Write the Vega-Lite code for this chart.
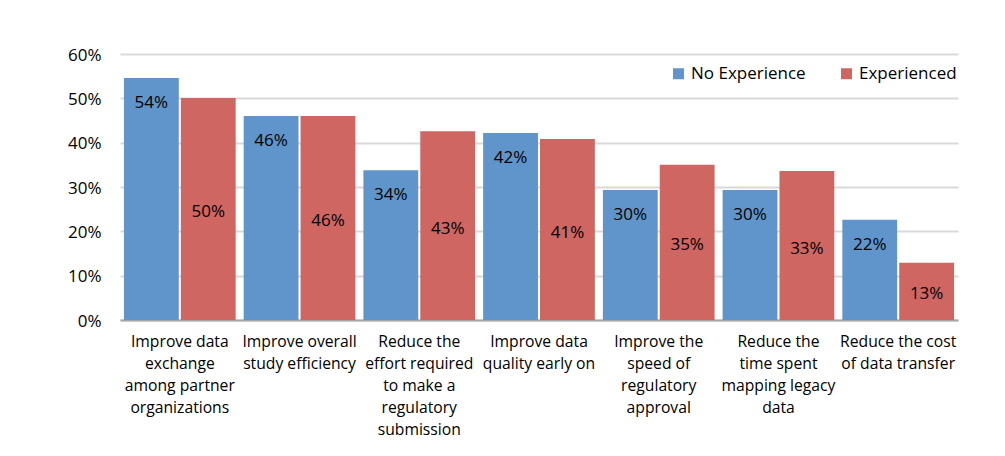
{
  "$schema": "https://vega.github.io/schema/vega-lite/v6.json",
  "width": 838,
  "height": 266,
  "autosize": {"type": "none"},
  "padding": {"left": 120, "top": 54, "right": 47, "bottom": 136},
  "background": "white",
  "config": {
    "font": "Open Sans",
    "view": {"stroke": null}
  },
  "data": {
    "values": [
      {"cat": "Improve data exchange among partner organizations", "series": "No Experience", "value": 0.546, "label": "54%"},
      {"cat": "Improve data exchange among partner organizations", "series": "Experienced", "value": 0.501, "label": "50%"},
      {"cat": "Improve overall study efficiency", "series": "No Experience", "value": 0.46, "label": "46%"},
      {"cat": "Improve overall study efficiency", "series": "Experienced", "value": 0.46, "label": "46%"},
      {"cat": "Reduce the effort required to make a regulatory submission", "series": "No Experience", "value": 0.338, "label": "34%"},
      {"cat": "Reduce the effort required to make a regulatory submission", "series": "Experienced", "value": 0.426, "label": "43%"},
      {"cat": "Improve data quality early on", "series": "No Experience", "value": 0.422, "label": "42%"},
      {"cat": "Improve data quality early on", "series": "Experienced", "value": 0.408, "label": "41%"},
      {"cat": "Improve the speed of regulatory approval", "series": "No Experience", "value": 0.293, "label": "30%"},
      {"cat": "Improve the speed of regulatory approval", "series": "Experienced", "value": 0.35, "label": "35%"},
      {"cat": "Reduce the time spent mapping legacy data", "series": "No Experience", "value": 0.293, "label": "30%"},
      {"cat": "Reduce the time spent mapping legacy data", "series": "Experienced", "value": 0.336, "label": "33%"},
      {"cat": "Reduce the cost of data transfer", "series": "No Experience", "value": 0.226, "label": "22%"},
      {"cat": "Reduce the cost of data transfer", "series": "Experienced", "value": 0.129, "label": "13%"}
    ]
  },
  "encoding": {
    "x": {
      "field": "cat",
      "type": "nominal",
      "sort": null,
      "scale": {"paddingInner": 0.067, "paddingOuter": 0.033},
      "axis": {
        "title": null,
        "labelAngle": 0,
        "ticks": false,
        "tickSize": 0,
        "domainColor": "#A6A6A6",
        "domainWidth": 2,
        "labelFontSize": 15.7,
        "labelColor": "#000000",
        "labelLineHeight": 22,
        "labelPadding": 14,
        "labelLimit": 0,
        "labelExpr": "{'Improve data exchange among partner organizations': ['Improve data', 'exchange', 'among partner', 'organizations'], 'Improve overall study efficiency': ['Improve overall', 'study efficiency'], 'Reduce the effort required to make a regulatory submission': ['Reduce the', 'effort required', 'to make a', 'regulatory', 'submission'], 'Improve data quality early on': ['Improve data', 'quality early on'], 'Improve the speed of regulatory approval': ['Improve the', 'speed of', 'regulatory', 'approval'], 'Reduce the time spent mapping legacy data': ['Reduce the', 'time spent', 'mapping legacy', 'data'], 'Reduce the cost of data transfer': ['Reduce the cost', 'of data transfer']}[datum.value]"
      }
    },
    "xOffset": {
      "field": "series",
      "type": "nominal",
      "sort": ["No Experience", "Experienced"],
      "scale": {"paddingInner": 0.036}
    }
  },
  "layer": [
    {
      "mark": {"type": "bar"},
      "encoding": {
        "y": {
          "field": "value",
          "type": "quantitative",
          "scale": {"domain": [0, 0.6]},
          "axis": {
            "title": null,
            "format": ".0%",
            "values": [0, 0.1, 0.2, 0.3, 0.4, 0.5, 0.6],
            "grid": true,
            "gridColor": "#D9D9D9",
            "gridWidth": 2,
            "domain": false,
            "ticks": false,
            "tickSize": 0,
            "labelPadding": 19,
            "labelFontSize": 17,
            "labelOffset": 1,
            "labelColor": "#000000"
          }
        },
        "color": {
          "field": "series",
          "type": "nominal",
          "sort": ["No Experience", "Experienced"],
          "scale": {"domain": ["No Experience", "Experienced"], "range": ["#5F95CA", "#CF6661"]},
          "legend": {
            "title": null,
            "orient": "none",
            "direction": "horizontal",
            "legendX": 550,
            "legendY": 11,
            "symbolType": "square",
            "symbolSize": 121,
            "symbolStrokeWidth": 0,
            "labelFontSize": 17,
            "labelColor": "#000000",
            "labelOffset": 4,
            "columnPadding": 32
          }
        }
      }
    },
    {
      "transform": [{"filter": "datum.series === 'No Experience'"}],
      "mark": {"type": "text", "dy": 25, "baseline": "middle", "fontSize": 17, "color": "#000000"},
      "encoding": {
        "y": {"field": "value", "type": "quantitative", "scale": {"domain": [0, 0.6]}, "axis": null},
        "text": {"field": "label"}
      }
    },
    {
      "transform": [{"filter": "datum.series === 'Experienced'"}],
      "mark": {"type": "text", "baseline": "middle", "fontSize": 17, "color": "#000000", "dy": 3},
      "encoding": {
        "y": {"field": "value", "type": "quantitative", "scale": {"domain": [0, 1.2]}, "axis": null},
        "text": {"field": "label"}
      }
    }
  ],
  "resolve": {"scale": {"y": "independent"}}
}
